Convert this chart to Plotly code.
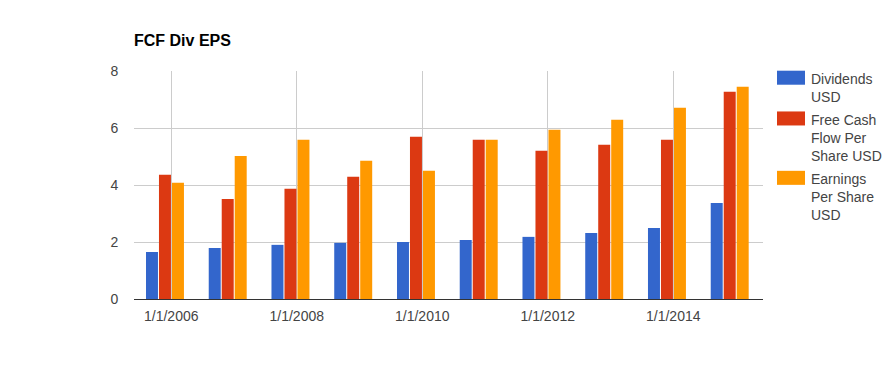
import plotly.graph_objects as go

years = [2006, 2007, 2008, 2009, 2010, 2011, 2012, 2013, 2014, 2015]
dividends = [1.65, 1.79, 1.90, 1.97, 2.00, 2.07, 2.18, 2.32, 2.49, 3.37]
fcf_per_share = [4.36, 3.51, 3.87, 4.29, 5.69, 5.59, 5.20, 5.41, 5.59, 7.27]
eps = [4.08, 5.02, 5.59, 4.85, 4.50, 5.59, 5.94, 6.29, 6.71, 7.45]

series_names = ["Dividends USD", "Free Cash Flow Per Share USD", "Earnings Per Share USD"]
legend_lines = ["Dividends<br>USD", "Free Cash<br>Flow Per<br>Share USD", "Earnings<br>Per Share<br>USD"]
colors = ["#3366cc", "#dc3912", "#ff9900"]
tick_years = [2006, 2008, 2010, 2012, 2014]
tick_text = ["1/1/%d" % y for y in tick_years]

W, H = 896, 371
L, R, T, B = 134, 763, 71.3, 299

fig = go.Figure()
bar_w = 0.191
offsets = [-0.403, -0.196, 0.011]
for vals, name, col, off in zip([dividends, fcf_per_share, eps], series_names, colors, offsets):
    fig.add_trace(go.Bar(x=years, y=vals, name=name, marker=dict(color=col, line=dict(width=0)),
                         width=bar_w, offset=off, showlegend=False))

font_family = "Liberation Sans, Arial, sans-serif"

def px_x(px):
    return (px - L) / (R - L)

def px_y(py):
    return (B - py) / (B - T)

shapes = []
annotations = []
sw_tops = [71, 111.7, 171]
text_tops = [69.3, 110.3, 169.3]
for i in range(3):
    shapes.append(dict(type="rect", xref="paper", yref="paper",
                       x0=px_x(777), x1=px_x(805), y0=px_y(sw_tops[i] + 14), y1=px_y(sw_tops[i]),
                       fillcolor=colors[i], line=dict(width=0)))
    annotations.append(dict(xref="paper", yref="paper", x=px_x(809), y=px_y(text_tops[i]),
                            xanchor="left", yanchor="top", align="left", showarrow=False,
                            text=legend_lines[i], font=dict(family=font_family, size=14, color="#444444")))

fig.update_layout(
    width=W, height=H,
    margin=dict(l=L, r=W - R, t=T, b=H - B, pad=0),
    paper_bgcolor="white", plot_bgcolor="white",
    barmode="overlay",
    title=dict(text="<b>FCF Div EPS</b>", x=L / W, xanchor="left", y=1 - 40.5 / H, yanchor="middle",
               font=dict(family=font_family, size=16, color="#000000")),
    font=dict(family=font_family, size=14, color="#444444"),
    xaxis=dict(range=[2005.406, 2015.43], tickvals=tick_years, ticktext=tick_text,
               showgrid=True, gridcolor="#cccccc", gridwidth=1,
               showline=True, linecolor="#333333", linewidth=1,
               ticks="outside", ticklen=4, tickcolor="rgba(0,0,0,0)",
               zeroline=False, tickfont=dict(size=14, color="#444444")),
    yaxis=dict(range=[0, 8], dtick=2, tick0=0, showgrid=True, gridcolor="#cccccc", gridwidth=1,
               zeroline=False, showline=False,
               ticks="outside", ticklen=12, tickcolor="rgba(0,0,0,0)",
               tickfont=dict(size=14, color="#444444")),
    shapes=shapes,
    annotations=annotations,
)

fig.write_html("out.html")
